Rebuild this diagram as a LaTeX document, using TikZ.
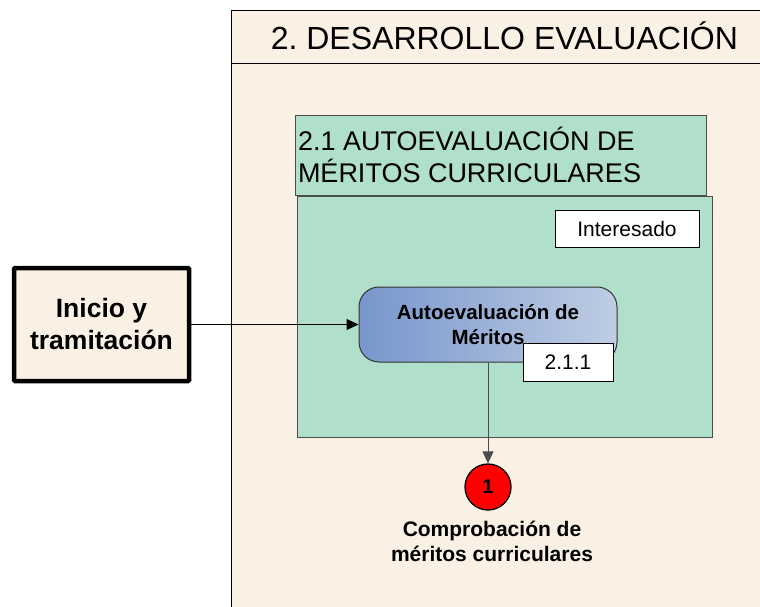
\documentclass[tikz,border=0pt]{standalone}
\usepackage{fontspec}
\setmainfont{Liberation Sans}
\usetikzlibrary{shapes,arrows.meta,positioning}
\definecolor{lanebg}{HTML}{FAF0E3}
\definecolor{subbg}{HTML}{B0DFCC}
\definecolor{procdark}{HTML}{7896CC}
\definecolor{proclight}{HTML}{BFCDE4}
\frenchspacing

\begin{document}
\begin{tikzpicture}[x=1pt,y=-1pt,line width=1pt,
  greenbox/.style={draw=black!70,fill=subbg,inner sep=0pt},
  tagbox/.style={draw,fill=white,inner sep=0pt,font=\fontsize{21}{24}\selectfont},
  flecha/.style={-{Triangle[length=12pt,width=11pt]}}]
\useasboundingbox (0,0) rectangle (760,606);
% carril
\fill[lanebg] (231,10) rectangle (762,608);
\draw (231,608) -- (231,10) -- (762,10);
\draw (231,63) -- (762,63);
\node[anchor=west,font=\fontsize{32}{36}\selectfont] (carril) at (267,36) {2. DESARROLLO EVALUACIÓN};
% subproceso
\node[greenbox,minimum width=411,minimum height=80] (subtit) at (500.5,155) {};
\node[anchor=west,align=left,inner sep=3pt,font=\fontsize{27}{32}\selectfont] at (subtit.west) {2.1 AUTOEVALUACIÓN DE\\MÉRITOS CURRICULARES};
\node[greenbox,minimum width=415,minimum height=241] (cuerpo) at (504.5,316.5) {};
\node[tagbox,minimum width=144,minimum height=37] (interesado) at (627,228.5) {Interesado};
% entrada
\node[draw,line width=4.5pt,rounded corners=1pt,fill=lanebg,minimum width=175,minimum height=113,
  align=center,font=\bfseries\fontsize{26.5}{32}\selectfont] (inicio) at (101.5,324.5) {Inicio y\\tramitación};
% proceso
\node[draw=black!80,rounded corners=20pt,left color=procdark,right color=proclight,
  minimum width=258,minimum height=75,align=center,
  font=\bfseries\fontsize{20.5}{25}\selectfont] (proceso) at (488,324.5) {Autoevaluación de\\Méritos};
\node[tagbox,minimum width=90,minimum height=38] (codigo) at (568,362) {2.1.1};
% salida
\node[circle,draw,line width=1.3pt,fill=red,minimum size=46,inner sep=0pt,
  font=\bfseries\fontsize{20}{22}\selectfont] (fin) at (488,487) {1};
\node[below=7pt of fin,align=center,font=\bfseries\fontsize{21}{25}\selectfont,xshift=4pt] (finlbl) {Comprobación de\\méritos curriculares};
\draw[flecha] (inicio.east) -- (proceso.west);
\draw[flecha,black!70] (proceso.south) -- (fin.north);
\end{tikzpicture}
\end{document}
